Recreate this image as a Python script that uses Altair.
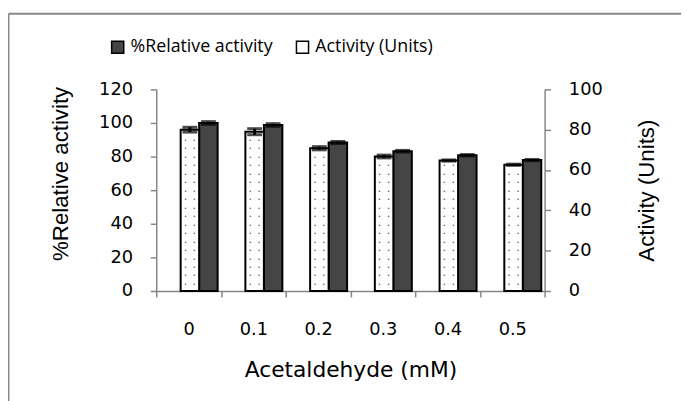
import altair as alt
import pandas as pd

concentrations = ["0", "0.1", "0.2", "0.3", "0.4", "0.5"]
relative_activity = [100.0, 98.8, 88.4, 83.2, 80.8, 77.9]
relative_error = [0.8, 0.8, 0.6, 0.5, 0.4, 0.4]
activity_units = [80.0, 79.0, 70.8, 66.7, 64.7, 62.6]
activity_error = [1.2, 1.5, 0.8, 0.7, 0.3, 0.3]
series_names = ["%Relative activity", "Activity (Units)"]
left_ticks = [0, 20, 40, 60, 80, 100, 120]
right_ticks = [0, 20, 40, 60, 80, 100]


def frame(values, errors, name):
    df = pd.DataFrame({"conc": concentrations, "value": values, "err": errors})
    df["series"] = name
    df["lo"] = df["value"] - df["err"]
    df["hi"] = df["value"] + df["err"]
    return df


rel = frame(relative_activity, relative_error, series_names[0])
act = frame(activity_units, activity_error, series_names[1])

TICK_FONT = "DejaVu Sans"
SIDE_FONT = "Liberation Sans"

x_enc = alt.X(
    "conc:N",
    sort=concentrations,
    scale=alt.Scale(paddingInner=0, paddingOuter=0),
    axis=alt.Axis(
        title="Acetaldehyde (mM)",
        labelAngle=0,
        tickBand="extent",
        tickSize=6,
        labelPadding=24,
        labelFont=TICK_FONT,
        labelFontSize=18,
        titleFont=TICK_FONT,
        titleFontSize=22,
        titleFontWeight="normal",
        titleBaseline="alphabetic",
        titleY=87,
    ),
)
xoff_enc = alt.XOffset(
    "series:N",
    scale=alt.Scale(domain=[series_names[1], series_names[0]], paddingInner=0,
                    paddingOuter=0.75, align=0.88),
)
color_enc = alt.Color(
    "series:N",
    scale=alt.Scale(domain=series_names, range=["#454545", "#ffffff"]),
    legend=alt.Legend(
        title=None,
        orient="none",
        legendX=-48,
        legendY=-52,
        direction="horizontal",
        symbolType="square",
        symbolSize=150,
        symbolStrokeColor="black",
        symbolStrokeWidth=1.5,
        labelFont="Open Sans",
        labelFontSize=18,
        labelColor="black",
        labelOffset=4,
        columnPadding=20,
    ),
)

left_scale = alt.Scale(domain=[0, 120], nice=False)
right_scale = alt.Scale(domain=[0, 100], nice=False)

left_axis = alt.Axis(
    orient="left", values=left_ticks, title="%Relative activity",
    tickSize=6, labelPadding=18, labelFont=TICK_FONT, labelFontSize=18,
    titleFont=SIDE_FONT, titleFontSize=22.5, titleFontWeight="normal",
    titleAngle=-90, titleBaseline="middle", titleX=-97, titleY=85,
)
right_axis = alt.Axis(
    orient="right", values=right_ticks, title="Activity (Units)",
    tickSize=6, labelPadding=18, labelFont=TICK_FONT, labelFontSize=18,
    titleFont=SIDE_FONT, titleFontSize=22.5, titleFontWeight="normal",
    titleAngle=-90, titleBaseline="middle", titleX=103, titleY=102,
)


def bars(df, scale, axis):
    return alt.Chart(df).mark_bar(stroke="black", strokeWidth=2).encode(
        x=x_enc, xOffset=xoff_enc,
        y=alt.Y("value:Q", scale=scale, axis=axis),
        color=color_enc,
    )


def errbars(df, scale, axis):
    base = alt.Chart(df)
    rule = base.mark_rule(color="black", strokeWidth=3).encode(
        x=x_enc, xOffset=xoff_enc,
        y=alt.Y("lo:Q", scale=scale, axis=axis), y2="hi:Q",
    )
    top = base.mark_tick(color="black", size=15, thickness=3).encode(
        x=x_enc, xOffset=xoff_enc, y=alt.Y("hi:Q", scale=scale, axis=axis),
    )
    bottom = base.mark_tick(color="black", size=15, thickness=3).encode(
        x=x_enc, xOffset=xoff_enc, y=alt.Y("lo:Q", scale=scale, axis=axis),
    )
    return [rule, top, bottom]


def dots(df, scale, axis, shift, start):
    return alt.Chart(df).transform_calculate(
        dots=f"sequence({start}, datum.value - 2, 4.2)"
    ).transform_flatten(["dots"]).mark_text(
        text="\u2022", fontSize=4.5, color="#333333", dx=shift, baseline="middle"
    ).encode(
        x=x_enc, xOffset=xoff_enc, y=alt.Y("dots:Q", scale=scale, axis=axis),
    )


left_layer = alt.layer(bars(rel, left_scale, left_axis), *errbars(rel, left_scale, left_axis))
right_layer = alt.layer(
    bars(act, right_scale, right_axis),
    dots(act, right_scale, right_axis, -4.5, 3),
    dots(act, right_scale, right_axis, 4.5, 3),
    *errbars(act, right_scale, right_axis),
)

one = alt.Data(values=[{"k": 1}])
border_top = alt.Chart(one).mark_rule(color="#888888", strokeWidth=2).encode(
    x=alt.value(-149.5), x2=alt.value(560), y=alt.value(-76.5)
)
border_left = alt.Chart(one).mark_rule(color="#888888", strokeWidth=2).encode(
    x=alt.value(-149.5), y=alt.value(-76.5), y2=alt.value(330)
)

chart = alt.layer(left_layer, right_layer, border_top, border_left).resolve_scale(
    y="independent"
).properties(
    width=393,
    height=204,
    autosize=alt.AutoSizeParams(type="none"),
    padding={"left": 150, "top": 80, "right": 138, "bottom": 109},
).configure_view(stroke=None).configure_axis(
    domainColor="#868686", tickColor="#868686", grid=False,
    labelColor="black", titleColor="black", domainWidth=1.5, tickWidth=1.5,
)

chart.save("out.html", embed_options={"renderer": "svg", "actions": False})
